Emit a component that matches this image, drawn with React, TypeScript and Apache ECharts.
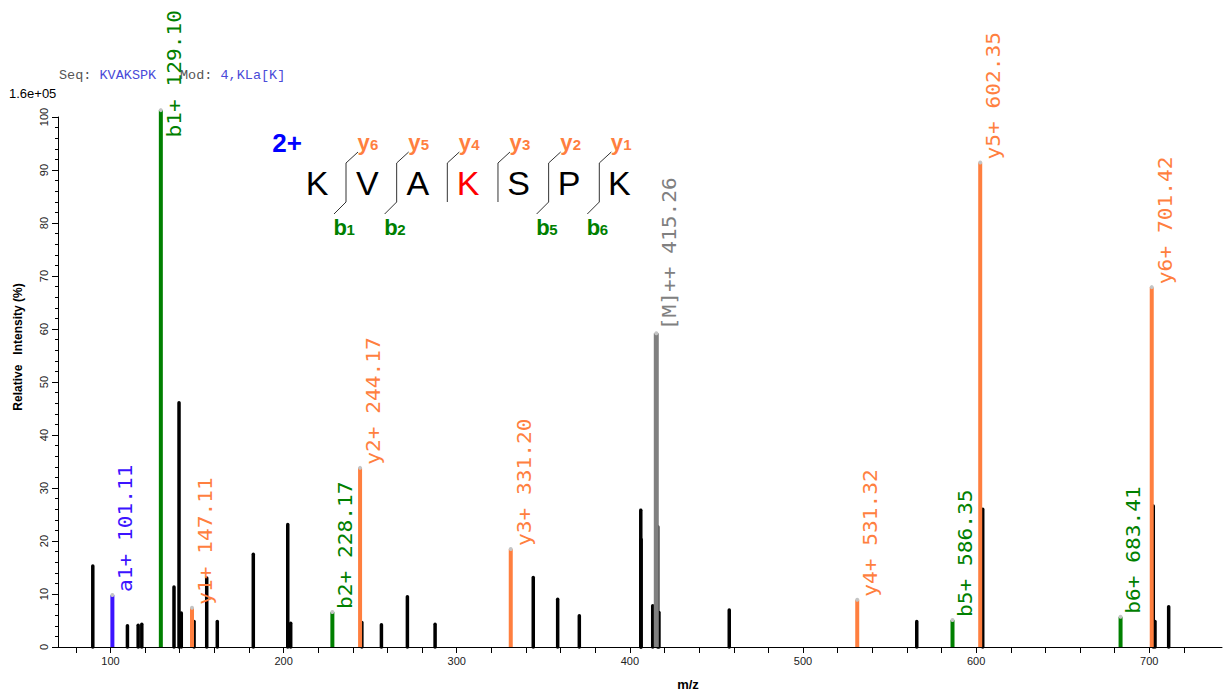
import React, { useEffect, useRef } from "react";
import * as echarts from "echarts";

// ---- annotated fragment ions ----
const ionLabels = ["a1+", "b1+", "y1+", "b2+", "y2+", "y3+", "[M]++", "y4+", "b5+", "y5+", "b6+", "y6+"];
const ionMz = [101.11, 129.1, 147.11, 228.17, 244.17, 331.2, 415.26, 531.32, 586.35, 602.35, 683.41, 701.42];
const ionIntensity = [9.8, 101.3, 7.4, 6.6, 33.8, 18.5, 59.2, 8.9, 5.1, 91.4, 5.7, 67.9];

// ---- unmatched peaks ----
const peakMz = [
  89.8, 109.8, 116.0, 118.1, 136.7, 139.6, 140.9, 148.3, 155.6, 161.7, 182.5, 202.4, 204.1,
  245.2, 256.5, 271.5, 287.5, 344.2, 358.3, 370.8, 406.3, 406.5, 413.2, 416.1, 416.8, 457.4,
  565.7, 603.8, 702.3, 703.3, 711.2,
];
const peakIntensity = [
  15.3, 4.0, 4.1, 4.3, 11.3, 46.1, 6.4, 4.8, 13.0, 4.8, 17.5, 23.1, 4.5,
  4.6, 4.2, 9.5, 4.3, 13.1, 9.0, 5.9, 25.8, 20.3, 7.8, 22.7, 6.5, 7.0,
  4.8, 26.0, 26.6, 4.8, 7.6,
];

// ---- axes ----
const xTickValues = [80, 100, 120, 140, 160, 180, 200, 220, 240, 260, 280, 300, 320, 340, 360, 380, 400, 420, 440, 460, 480, 500, 520, 540, 560, 580, 600, 620, 640, 660, 680, 700, 720];
const xLabelValues = [100, 200, 300, 400, 500, 600, 700];

// ---- peptide ----
const sequence = ["K", "V", "A", "K", "S", "P", "K"];
const modifiedIndex = 3;
const bIonSites = [1, 2, 5, 6];
const yIonSites = [1, 2, 3, 4, 5, 6];
const chargeText = "2+";
const seqText = "KVAKSPK";
const modText = "4,KLa[K]";
const maxIntensityText = "1.6e+05";

const ORANGE = "#ff7f3f";
const GREEN = "#008000";
const BLUE_ION = "#3c14ff";
const GRAY_ION = "#808080";

function ionColor(label: string) {
  if (label.startsWith("a")) return BLUE_ION;
  if (label.startsWith("b")) return GREEN;
  if (label.startsWith("y")) return ORANGE;
  return GRAY_ION;
}

function buildPeptideGraphics() {
  const els: any[] = [];
  const sans = "'Liberation Sans', Arial, sans-serif";
  els.push({
    type: "text", x: 287, y: 143,
    style: { text: chargeText, fill: "#0000ff", font: `bold 26px ${sans}`, align: "center", verticalAlign: "middle", textAlign: "center", textVerticalAlign: "middle" },
  });
  sequence.forEach((aa, i) => {
    els.push({
      type: "text", x: 317 + 50.4 * i, y: 183,
      style: { text: aa, fill: i === modifiedIndex ? "#ff0000" : "#000", font: `34px ${sans}`, align: "center", verticalAlign: "middle", textAlign: "center", textVerticalAlign: "middle" },
    });
  });
  for (let j = 1; j < sequence.length; j++) {
    const sx = 346 + 50.66 * (j - 1);
    els.push({ type: "line", shape: { x1: sx, y1: 163, x2: sx, y2: 202 }, style: { stroke: "#333", lineWidth: 1 } });
    if (yIonSites.includes(j)) {
      els.push({ type: "line", shape: { x1: sx, y1: 163, x2: sx + 12, y2: 152 }, style: { stroke: "#333", lineWidth: 1 } });
      const n = sequence.length - j;
      els.push({ type: "text", x: sx + 11.5, y: 153, style: { text: "y", fill: ORANGE, font: `bold 22px ${sans}`, align: "left", verticalAlign: "bottom", textAlign: "left", textVerticalAlign: "bottom" } });
      els.push({ type: "text", x: sx + 24, y: 152, style: { text: String(n), fill: ORANGE, font: `bold 15px ${sans}`, align: "left", verticalAlign: "bottom", textAlign: "left", textVerticalAlign: "bottom" } });
    }
    if (bIonSites.includes(j)) {
      els.push({ type: "line", shape: { x1: sx, y1: 202, x2: sx - 12, y2: 214 }, style: { stroke: "#333", lineWidth: 1 } });
      els.push({ type: "text", x: sx - 12.5, y: 238, style: { text: "b", fill: GREEN, font: `bold 22px ${sans}`, align: "left", verticalAlign: "bottom", textAlign: "left", textVerticalAlign: "bottom" } });
      els.push({ type: "text", x: sx + 0.5, y: 237, style: { text: String(j), fill: GREEN, font: `bold 15px ${sans}`, align: "left", verticalAlign: "bottom", textAlign: "left", textVerticalAlign: "bottom" } });
    }
  }
  return els;
}

export default function App() {
  const ref = useRef<HTMLDivElement>(null);
  useEffect(() => {
    if (!ref.current) return;
    const chart = echarts.init(ref.current, undefined, { renderer: "svg" });
    const sans = "'Liberation Sans', Arial, sans-serif";
    const mono = "'Liberation Mono', 'Courier New', monospace";
    const labelFont = 20;
    const labelScale = 1.06;

    const option: any = {
      animation: false,
      backgroundColor: "#fff",
      grid: { left: 58, right: 5, top: 117, bottom: 50, containLabel: false },
      xAxis: {
        type: "value",
        min: 69.7,
        max: 742,
        axisLine: { onZero: false, lineStyle: { color: "#000", width: 1 } },
        axisTick: { show: true, customValues: xTickValues, length: 6, lineStyle: { color: "#000", width: 1 } },
        axisLabel: { customValues: xLabelValues, fontSize: 11, color: "#222", margin: 8, fontFamily: sans },
        splitLine: { show: false },
      },
      yAxis: {
        type: "value",
        min: 0,
        max: 100,
        interval: 10,
        axisLine: { show: true, lineStyle: { color: "#000", width: 1 } },
        axisTick: { show: true, length: 6, lineStyle: { color: "#000", width: 1 } },
        minorTick: { show: true, splitNumber: 5, length: 3, lineStyle: { color: "#000", width: 1 } },
        axisLabel: { rotate: 90, fontSize: 11, color: "#222", margin: 9, fontFamily: sans },
        splitLine: { show: false },
        minorSplitLine: { show: false },
      },
      series: [
        {
          type: "custom",
          data: peakMz.map((m, i) => [m, peakIntensity[i]]),
          renderItem: (params: any, api: any) => {
            const base = api.coord([api.value(0), 0]);
            const top = api.coord([api.value(0), api.value(1)]);
            return {
              type: "line",
              shape: { x1: base[0], y1: base[1], x2: top[0], y2: top[1] },
              style: { stroke: "#000", lineWidth: 3.5, lineCap: "round" },
            };
          },
        },
        {
          type: "custom",
          data: ionMz.map((m, i) => [m, ionIntensity[i]]),
          renderItem: (params: any, api: any) => {
            const i = params.dataIndex;
            const label = ionLabels[i];
            const color = ionColor(label);
            const base = api.coord([api.value(0), 0]);
            const top = api.coord([api.value(0), api.value(1)]);
            const text = `${label} ${ionMz[i].toFixed(2)}`;
            const len = text.length * 0.602 * labelFont * labelScale;
            const ly = Math.max(top[1] - 3, 10 + len);
            return {
              type: "group",
              children: [
                {
                  type: "line",
                  shape: { x1: base[0], y1: base[1], x2: top[0], y2: top[1] },
                  style: { stroke: color, lineWidth: label.startsWith("[M]") ? 5 : 4, lineCap: "butt" },
                },
                { type: "circle", shape: { cx: top[0], cy: top[1], r: 2 }, style: { fill: "#c4c4c4" } },
                {
                  type: "text",
                  x: top[0] + 13,
                  y: ly,
                  rotation: Math.PI / 2,
                  scaleX: labelScale,
                  style: {
                    text,
                    fill: color,
                    font: `${labelFont}px 'DejaVu Sans Mono', monospace`,
                    align: "left", verticalAlign: "middle",
                    textAlign: "left", textVerticalAlign: "middle",
                  },
                },
              ],
            };
          },
        },
      ],
      graphic: [
        { type: "text", x: 59, y: 75, style: { text: "Seq:", fill: "#555", font: `13.5px ${mono}`, verticalAlign: "middle", textVerticalAlign: "middle" } },
        { type: "text", x: 99.5, y: 75, style: { text: seqText, fill: "#4a4ad8", font: `13.5px ${mono}`, verticalAlign: "middle", textVerticalAlign: "middle" } },
        { type: "text", x: 180, y: 75, style: { text: "Mod:", fill: "#555", font: `13.5px ${mono}`, verticalAlign: "middle", textVerticalAlign: "middle" } },
        { type: "text", x: 220.5, y: 75, style: { text: modText, fill: "#4a4ad8", font: `13.5px ${mono}`, verticalAlign: "middle", textVerticalAlign: "middle" } },
        { type: "text", x: 9, y: 93, style: { text: maxIntensityText, fill: "#000", font: `13px ${sans}`, verticalAlign: "middle", textVerticalAlign: "middle" } },
        {
          type: "text", x: 18, y: 347, rotation: Math.PI / 2,
          style: { text: "Relative   Intensity (%)", fill: "#000", font: `bold 12px ${sans}`, align: "center", verticalAlign: "middle", textAlign: "center", textVerticalAlign: "middle" },
        },
        {
          type: "text", x: 688, y: 684,
          style: { text: "m/z", fill: "#000", font: `bold 13px ${sans}`, align: "center", verticalAlign: "middle", textAlign: "center", textVerticalAlign: "middle" },
        },
        ...buildPeptideGraphics(),
      ],
    };
    chart.setOption(option);
    return () => chart.dispose();
  }, []);
  return <div ref={ref} style={{ position: "fixed", left: 0, top: 0, width: 1227, height: 697, background: "#fff" }} />;
}
